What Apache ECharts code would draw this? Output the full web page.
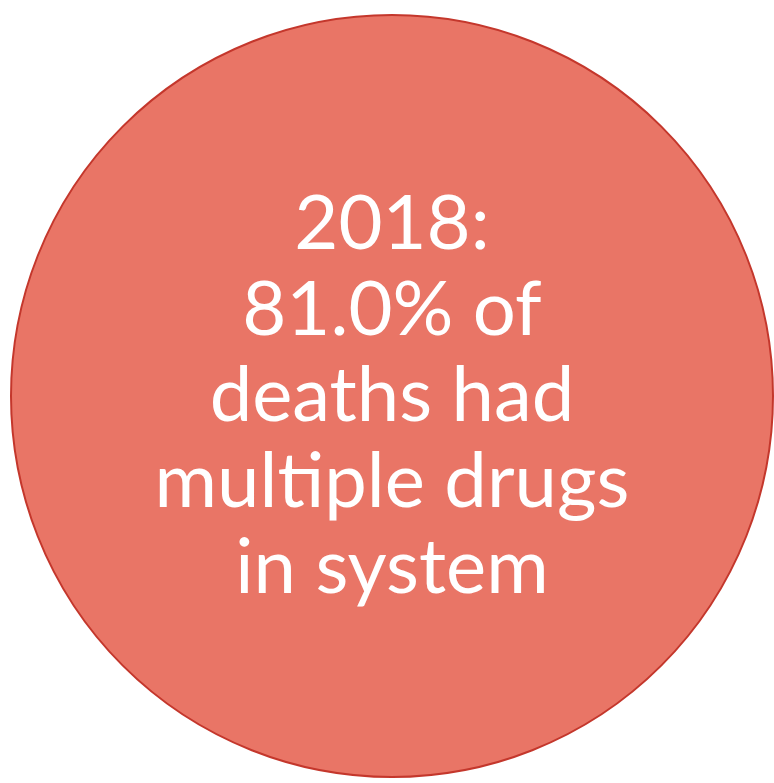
<!DOCTYPE html>
<html>
<head>
<meta charset="utf-8">
<script src="https://cdn.jsdelivr.net/npm/echarts@6/dist/echarts.min.js"></script>
<style>
    html, body { margin: 0; padding: 0; background: #ffffff; }
    #main { width: 774px; height: 783px; }
</style>
</head>
<body>
<div id="main"></div>
<script>
// data
var year = '2018';
var pct = [81.0];
var labelLines = ['of', 'deaths had', 'multiple drugs', 'in system'];
var shares = [100];

var chart = echarts.init(document.getElementById('main'));

// text inside the circle
function centerText() {
    return [year + ':', pct[0].toFixed(1) + '% ' + labelLines[0]].concat(labelLines.slice(1)).join('\n');
}

var option = {
    animation: false,
    backgroundColor: '#ffffff',
    series: [
        {
            type: 'pie',
            center: [392, 396],
            radius: [0, 381],
            silent: true,
            startAngle: 90,
            itemStyle: {
                color: '#e97566',
                borderColor: '#c4372c',
                borderWidth: 2
            },
            label: {
                show: true,
                position: 'center',
                formatter: centerText,
                color: '#ffffff',
                fontFamily: 'Lato',
                fontSize: 76,
                lineHeight: 86,
                padding: [8, 0, 0, 0]
            },
            labelLine: { show: false },
            data: shares.map(function (v) { return { value: v, name: year }; })
        }
    ]
};
chart.setOption(option);
</script>
</body>
</html>
